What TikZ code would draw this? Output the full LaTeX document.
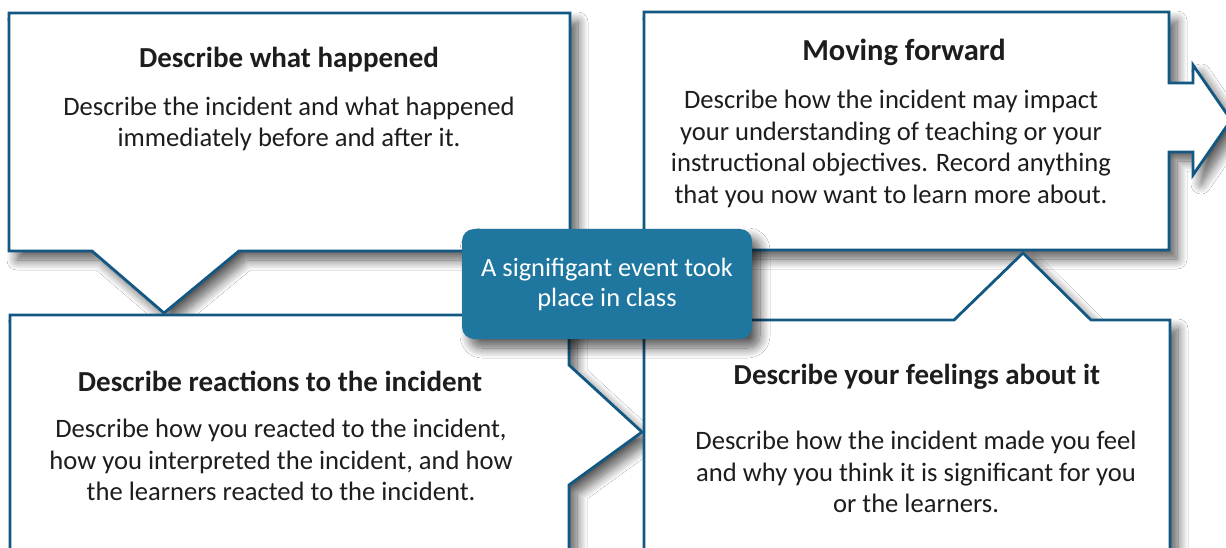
\documentclass[tikz,border=0pt]{standalone}
\usepackage{fontspec}
\setmainfont{Carlito}
\usetikzlibrary{shadows.blur}
\definecolor{bordercol}{RGB}{18,88,130}
\definecolor{centerfill}{RGB}{31,119,160}
\definecolor{txtcol}{RGB}{30,28,30}
\begin{document}
\begin{tikzpicture}[x=1pt,y=-1pt,
  cbox/.style={draw=bordercol, line width=2.8pt, fill=white, line join=miter,
    blur shadow={shadow xshift=8pt, shadow yshift=-9pt, shadow blur radius=10pt, shadow blur steps=14, shadow opacity=65}},
  ttl/.style={text=txtcol, font=\fontsize{29}{34}\selectfont\bfseries, inner sep=0pt},
  ttlbig/.style={text=txtcol, font=\fontsize{30.5}{36}\selectfont\bfseries, inner sep=0pt},
  body/.style={text=txtcol, font=\fontsize{26.6}{31.5}\selectfont, align=center, inner sep=0pt},
  ctr/.style={fill=centerfill, rounded corners=12pt, minimum width=290pt, minimum height=110pt,
    text=white, font=\fontsize{26.4}{30}\selectfont, align=center, inner sep=0pt,
    blur shadow={shadow xshift=8pt, shadow yshift=-9pt, shadow blur radius=10pt, shadow blur steps=14, shadow opacity=65}}
]
\useasboundingbox (0,0) rectangle (1226,548);
\clip (0,0) rectangle (1226,548);
\fill[white] (0,0) rectangle (1226,548);
% box 1: describe what happened
\path[cbox] (9,13) -- (570,13) -- (570,251) -- (239,251) -- (164,313) -- (92,251) -- (9,251) -- cycle;
% box 3: moving forward
\path[cbox] (644,12) -- (1169,12) -- (1169,83) -- (1193,83) -- (1193,65) -- (1231,120) -- (1193,175) -- (1193,152) -- (1169,152) -- (1169,250) -- (644,250) -- cycle;
% box 2: reactions
\path[cbox] (10,315) -- (569,315) -- (569,365) -- (642,432) -- (569,485) -- (569,570) -- (10,570) -- cycle;
% box 4: feelings
\path[cbox] (644,320) -- (954,320) -- (1023,253) -- (1091,320) -- (1170,320) -- (1170,570) -- (644,570) -- cycle;
% centre
\node[ctr] (event) at (607,284) {A signifigant event took\\place in class};
% texts
\node[ttl] (t1) at (289,60) {Describe what happened};
\node[body] (b1) at (289,124) {Describe the incident and what happened\\immediately before and after it.};
\node[ttlbig] (t3) at (904,52) {Moving forward};
\node[body] (b3) at (891,149) {Describe how the incident may impact\\your understanding of teaching or your\\instructional objectives. Record anything\\that you now want to learn more about.};
\node[ttl] (t2) at (280,381) {Describe reactions to the incident};
\node[body] (b2) at (281,460) {Describe how you reacted to the incident,\\how you interpreted the incident, and how\\the learners reacted to the incident.};
\node[ttl] (t4) at (917,377) {Describe your feelings about it};
\node[body] (b4) at (916,472) {Describe how the incident made you feel\\and why you think it is significant for you\\or the learners.};
\end{tikzpicture}
\end{document}
